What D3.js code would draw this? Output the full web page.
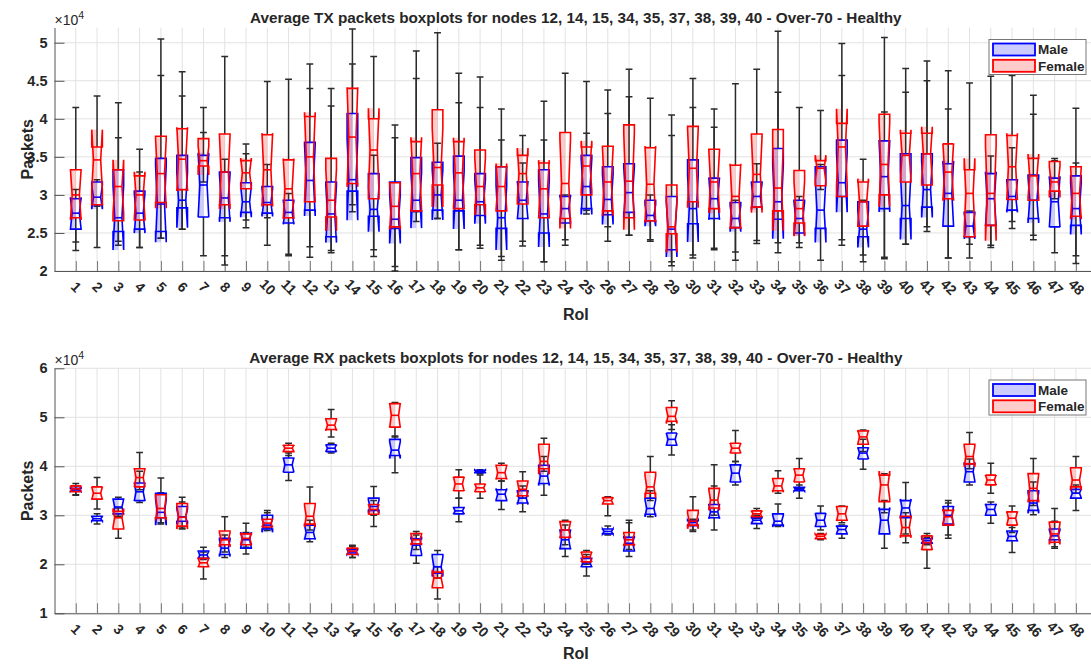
<!DOCTYPE html>
<html>
<head>
<meta charset="utf-8">
<script src="https://cdn.jsdelivr.net/npm/d3@7"></script>
<style>
body { margin: 0; background: #fff; }
text { font-family: "Liberation Sans", Arial, sans-serif; fill: #262626; }
</style>
</head>
<body>
<div id="chart"></div>
<script>
// RoI categories
var rois = d3.range(1, 49);

// all values in units of 10^4 packets
// TX - male
var txMaleQ1  = [2.55,2.87,2.52,2.55,2.52,2.83,2.71,2.70,2.77,2.76,2.63,2.80,2.45,3.05,2.72,2.56,2.79,2.80,2.79,2.73,2.56,2.69,2.50,2.63,2.82,2.74,2.77,2.66,2.28,2.62,2.69,2.57,2.84,2.68,2.50,2.56,2.98,2.45,2.82,2.69,2.84,2.59,2.45,2.60,2.80,2.69,2.58,2.60];
var txMaleMed = [2.76,2.97,2.70,2.76,2.88,2.93,3.13,2.96,2.91,2.90,2.77,3.19,2.75,3.20,2.81,2.68,2.93,3.00,2.93,2.91,2.70,2.93,2.75,2.82,3.11,2.94,3.03,2.73,2.55,2.82,2.95,2.69,2.98,2.91,2.69,2.80,3.16,2.55,3.24,2.86,3.07,3.02,2.59,2.95,2.98,2.93,2.91,2.82];
var txMaleQ3  = [2.95,3.17,3.33,3.05,3.48,3.52,3.52,3.30,3.16,3.11,2.93,3.69,3.17,4.07,3.28,3.17,3.49,3.43,3.51,3.28,3.37,3.17,3.33,2.98,3.52,3.37,3.41,2.93,2.98,3.46,3.22,2.90,3.17,3.61,2.93,3.37,3.72,2.91,3.71,3.54,3.54,3.41,2.77,3.28,3.20,3.26,3.22,3.25];
var txMaleLo  = [2.27,2.85,2.34,2.31,2.43,2.55,2.20,2.08,2.57,2.70,2.20,2.18,2.24,2.78,2.19,2.00,2.65,2.69,2.28,2.30,2.14,2.33,2.12,2.34,2.75,2.39,2.47,2.39,2.12,2.17,2.28,2.14,2.40,2.24,2.31,2.14,2.34,2.12,2.16,2.35,2.52,2.17,2.35,2.31,2.56,2.41,2.24,2.10];
var txMaleHi  = [3.07,3.20,3.75,3.30,4.57,4.30,4.15,3.47,3.54,3.40,3.02,4.40,4.17,4.72,3.52,3.75,4.53,3.68,4.21,4.15,3.72,3.42,3.72,3.00,3.81,4.07,4.29,3.00,3.78,4.15,3.89,2.93,3.41,4.35,2.98,3.40,4.57,2.93,4.09,4.35,4.50,4.13,2.79,3.51,3.62,4.06,3.45,3.42];

// TX - female
var txFemQ1  = [2.70,2.87,2.66,2.67,2.90,3.07,3.38,2.87,3.08,2.87,2.70,2.91,2.71,3.15,2.95,2.58,2.79,3.13,2.82,2.87,2.79,2.88,2.70,2.69,3.00,2.79,2.70,2.66,2.49,2.91,2.82,2.57,2.84,2.79,2.63,3.12,2.98,2.59,3.00,3.17,3.13,2.95,2.45,2.60,2.94,2.93,3.05,2.72];
var txFemMed = [3.00,3.46,3.11,3.00,3.28,3.47,3.45,3.30,3.29,3.33,3.08,3.50,2.93,3.76,3.59,2.85,3.28,3.36,3.29,3.11,3.11,3.28,3.08,3.15,3.38,3.17,3.18,3.14,2.58,3.35,3.17,2.98,3.27,3.09,2.82,3.35,3.63,2.91,3.40,3.52,3.54,3.30,3.02,3.02,3.37,3.25,3.17,3.02];
var txFemQ3  = [3.33,3.63,3.33,3.25,3.77,3.87,3.74,3.80,3.45,3.79,3.46,4.03,3.48,4.40,4.00,3.16,3.70,4.12,3.70,3.59,3.37,3.52,3.42,3.82,3.63,3.64,3.92,3.62,3.13,3.90,3.60,3.39,3.80,3.86,3.32,3.45,3.94,3.17,4.06,3.81,3.81,3.67,3.33,3.79,3.78,3.48,3.44,3.37];
var txFemLo  = [2.38,2.31,2.39,2.31,2.43,2.55,3.17,2.20,2.67,2.34,2.22,2.32,2.27,2.87,2.28,2.06,2.78,2.69,2.28,2.34,2.19,2.39,2.12,2.41,2.80,2.58,2.47,2.41,2.07,2.21,2.30,2.25,2.36,2.37,2.37,3.07,2.41,2.21,2.18,2.35,2.58,2.17,2.17,2.34,2.65,2.47,2.95,2.20];
var txFemHi  = [4.15,4.30,4.21,3.60,5.05,4.62,3.82,4.82,3.67,4.49,4.52,4.72,4.40,5.18,4.82,3.92,4.89,5.13,4.60,4.55,4.13,3.78,4.23,4.60,4.49,4.38,4.65,4.27,4.05,4.53,4.13,4.46,4.65,5.15,4.15,4.11,4.99,3.47,5.07,4.66,4.76,4.63,4.47,4.56,4.57,4.31,3.48,4.14];

// RX - male
var rxMaleQ1  = [3.49,2.89,3.03,3.30,2.95,2.88,2.12,2.20,2.33,2.72,3.88,2.52,4.30,2.21,3.10,4.22,2.18,1.82,3.03,3.87,3.30,3.25,3.65,2.32,1.95,2.62,2.27,3.02,4.43,2.79,2.95,3.68,2.83,2.80,3.50,2.77,2.62,4.15,2.62,2.95,2.43,2.82,3.68,3.00,2.48,3.10,2.50,3.35];
var rxMaleMed = [3.52,2.93,3.17,3.48,3.06,2.97,2.19,2.33,2.50,2.80,4.03,2.65,4.37,2.25,3.18,4.33,2.39,1.95,3.09,3.90,3.43,3.35,3.80,2.50,2.03,2.67,2.43,3.14,4.55,2.85,3.07,3.86,2.90,2.88,3.53,2.90,2.71,4.27,2.90,3.15,2.48,3.00,3.89,3.12,2.57,3.25,2.58,3.45];
var rxMaleQ3  = [3.55,2.98,3.33,3.66,3.45,3.18,2.27,2.53,2.63,3.00,4.17,2.80,4.44,2.30,3.35,4.55,2.52,2.20,3.16,3.92,3.52,3.50,4.02,2.70,2.12,2.72,2.55,3.35,4.68,2.89,3.22,4.03,2.95,3.03,3.57,3.04,2.78,4.38,3.12,3.30,2.52,3.18,4.05,3.22,2.68,3.50,2.72,3.53];
var rxMaleLo  = [3.41,2.82,2.98,3.26,2.82,2.74,2.10,2.14,2.21,2.69,3.71,2.46,4.27,2.14,3.00,3.87,2.02,1.72,2.87,3.85,3.12,3.07,3.41,2.16,1.76,2.60,2.16,2.97,4.23,2.67,2.70,3.62,2.73,2.77,3.35,2.70,2.53,3.94,2.33,2.62,2.40,2.60,3.62,2.84,2.24,3.01,2.33,3.10];
var rxMaleHi  = [3.60,3.03,3.37,3.90,3.76,3.37,2.35,2.60,2.65,3.10,4.27,2.90,4.47,2.37,3.59,4.62,2.60,2.28,3.35,3.93,3.70,3.60,4.20,2.80,2.20,2.78,2.85,3.50,4.85,2.92,4.03,4.10,3.00,3.23,3.62,3.19,2.80,4.55,3.30,3.67,2.55,3.30,4.15,3.27,2.75,3.68,3.14,3.62];

// RX - female
var rxFemQ1  = [3.48,3.33,2.72,3.58,2.95,2.78,1.95,2.40,2.40,2.76,4.30,2.82,4.75,2.20,3.02,4.80,2.42,1.52,3.50,3.48,3.75,3.40,3.95,2.55,2.05,3.23,2.40,3.45,4.92,2.80,3.15,4.27,2.97,3.50,3.68,2.52,2.90,4.45,3.28,2.58,2.30,2.80,4.05,3.62,2.80,3.30,2.45,3.58];
var rxFemMed = [3.54,3.45,2.95,3.77,3.14,2.96,2.03,2.50,2.53,2.84,4.37,2.98,4.84,2.27,3.12,5.04,2.50,1.72,3.64,3.56,3.87,3.53,4.10,2.70,2.15,3.30,2.50,3.58,5.02,2.88,3.31,4.37,3.03,3.60,3.82,2.57,3.03,4.60,3.62,2.75,2.44,2.97,4.20,3.72,2.94,3.55,2.62,3.72];
var rxFemQ3  = [3.60,3.58,3.08,3.95,3.42,3.24,2.12,2.68,2.62,2.92,4.43,3.24,4.97,2.33,3.22,5.28,2.63,1.84,3.78,3.64,4.02,3.70,4.45,2.87,2.25,3.36,2.65,3.88,5.20,3.10,3.55,4.47,3.09,3.75,3.95,2.61,3.18,4.72,3.82,2.98,2.58,3.10,4.45,3.82,3.07,3.85,2.86,3.97];
var rxFemLo  = [3.42,3.13,2.53,3.52,2.85,2.72,1.70,2.25,2.35,2.74,4.22,2.70,4.60,2.14,2.77,4.60,2.30,1.29,3.35,3.35,3.70,3.35,3.90,2.40,2.00,2.99,2.30,3.30,4.75,2.70,3.00,4.10,2.94,3.45,3.55,2.50,2.85,4.30,3.05,2.44,1.92,2.53,3.95,3.45,2.65,3.20,2.36,3.45];
var rxFemHi  = [3.65,3.77,3.15,4.28,3.46,3.27,2.25,2.97,2.84,3.05,4.47,3.58,5.16,2.39,3.30,5.30,2.67,1.95,3.93,3.82,4.06,3.89,4.57,2.90,2.28,3.38,2.90,4.20,5.34,3.38,3.60,4.73,3.14,3.91,4.16,2.63,3.19,4.74,3.85,3.05,2.63,3.25,4.69,4.06,3.19,4.16,2.88,4.20];

// tick labels
var txTicks = [2, 2.5, 3, 3.5, 4, 4.5, 5];
var rxTicks = [1, 2, 3, 4, 5, 6];
var seriesNames = ['Male', 'Female'];

// notch half-length factor (1.57/sqrt(n), 9 nodes)
var notchK = 1.57 / Math.sqrt(9);

var W = 1091, H = 665;
var svg = d3.select('#chart').append('svg')
    .attr('width', W).attr('height', H);

var x = d3.scaleLinear().domain([0, 49]).range([54.5, 1097.2]);

var blue = '#0000ff', red = '#ff0000';
var hw = 0.25, nw = 0.17, cw = 0.16;   // box / notch / cap half widths (x units)

function makeSeries(q1, med, q3, lo, hi) {
    return rois.map(function(r, i) {
        return {roi: r, q1: q1[i], med: med[i], q3: q3[i], lo: lo[i], hi: hi[i]};
    });
}

function drawPanel(p) {
    var y = d3.scaleLinear().domain(p.ylim).range([p.bottom, p.top]);
    var g = svg.append('g');

    // grid
    g.selectAll('.vg').data(rois).enter().append('line')
        .attr('x1', function(d){ return x(d); }).attr('x2', function(d){ return x(d); })
        .attr('y1', p.top).attr('y2', p.bottom)
        .attr('stroke', '#e2e2e2').attr('stroke-width', 1);
    g.selectAll('.hg').data(p.ticks).enter().append('line')
        .attr('x1', x(0)).attr('x2', W)
        .attr('y1', function(d){ return y(d); }).attr('y2', function(d){ return y(d); })
        .attr('stroke', '#e2e2e2').attr('stroke-width', 1);

    // axes
    var yAxis = d3.axisLeft(y).tickValues(p.ticks).tickSizeInner(-10).tickSizeOuter(0)
        .tickPadding(7).tickFormat(d3.format('~g'));
    var ya = g.append('g').attr('transform', 'translate(' + x(0) + ',0)').call(yAxis);
    ya.select('.domain').attr('stroke', '#555');
    ya.selectAll('.tick line').attr('stroke', '#555');
    ya.selectAll('text').attr('font-size', '14.5px').attr('font-weight', 'bold')
        .attr('font-family', '"Liberation Sans", Arial, sans-serif').attr('fill', '#262626');

    var xAxis = d3.axisBottom(x).tickValues(rois).tickSizeInner(-10).tickSizeOuter(0);
    var xa = g.append('g').attr('transform', 'translate(0,' + p.bottom + ')').call(xAxis);
    xa.select('.domain').attr('stroke', '#555');
    xa.selectAll('.tick line').attr('stroke', '#777');
    xa.selectAll('text')
        .attr('y', 0).attr('dy', '0.35em')
        .attr('transform', 'translate(0,16) rotate(45)')
        .attr('text-anchor', 'middle')
        .attr('font-size', '14px').attr('font-weight', 'bold')
        .attr('font-family', '"Liberation Sans", Arial, sans-serif').attr('fill', '#262626');

    // whiskers (black, under the boxes)
    var all = p.series[0].data.concat(p.series[1].data);
    var wg = g.append('g');
    wg.selectAll('path').data(all).enter().append('path')
        .attr('d', function(d) {
            var cx = x(d.roi);
            var c0 = x(d.roi - cw), c1 = x(d.roi + cw);
            return 'M' + cx + ',' + y(d.q3) + 'V' + y(d.hi) +
                'M' + c0 + ',' + y(d.hi) + 'H' + c1 +
                'M' + cx + ',' + y(d.q1) + 'V' + y(d.lo) +
                'M' + c0 + ',' + y(d.lo) + 'H' + c1;
        })
        .attr('fill', 'none').attr('stroke', '#2b2b2b').attr('stroke-width', 1.5);

    // notched boxes: light rectangular fill + notched outline
    p.series.forEach(function(s) {
        var bg = g.append('g');
        var boxes = bg.selectAll('g').data(s.data).enter().append('g');
        boxes.append('rect')
            .attr('x', function(d){ return x(d.roi - hw); })
            .attr('width', x(hw) - x(0))
            .attr('y', function(d){
                var n = notchK * (d.q3 - d.q1);
                return y(Math.max(d.q3, d.med + n));
            })
            .attr('height', function(d){
                var n = notchK * (d.q3 - d.q1);
                return y(Math.min(d.q1, d.med - n)) - y(Math.max(d.q3, d.med + n));
            })
            .attr('fill', s.color).attr('fill-opacity', 0.2);
        boxes.append('path')
            .attr('d', function(d) {
                var n = notchK * (d.q3 - d.q1);
                var L = x(d.roi - hw), R = x(d.roi + hw);
                var nL = x(d.roi - nw), nR = x(d.roi + nw);
                var pts = [[L, d.q1], [L, d.med - n], [nL, d.med], [L, d.med + n], [L, d.q3],
                           [R, d.q3], [R, d.med + n], [nR, d.med], [R, d.med - n], [R, d.q1]];
                return 'M' + pts.map(function(pt){ return pt[0] + ',' + y(pt[1]); }).join('L') + 'Z';
            })
            .attr('fill', 'none')
            .attr('stroke', s.color).attr('stroke-width', 1.6).attr('stroke-linejoin', 'miter');
        boxes.append('line')
            .attr('x1', function(d){ return x(d.roi - nw); })
            .attr('x2', function(d){ return x(d.roi + nw); })
            .attr('y1', function(d){ return y(d.med); })
            .attr('y2', function(d){ return y(d.med); })
            .attr('stroke', s.color).attr('stroke-width', 1.6);
    });

    // titles and labels
    g.append('text').attr('x', (x(0) + x(49)) / 2).attr('y', p.top - 5)
        .attr('text-anchor', 'middle').attr('font-size', '15.3px').attr('font-weight', 'bold')
        .attr('fill', '#000').text(p.title);
    var ex = g.append('text').attr('x', x(0)).attr('y', p.top - 3)
        .attr('font-size', '14px');
    ex.append('tspan').text('\u00d710');
    ex.append('tspan').attr('dy', '-6').attr('font-size', '10.5px').text('4');
    g.append('text').attr('transform', 'translate(27,' + ((p.top + p.bottom) / 2) + ') rotate(-90)')
        .attr('text-anchor', 'middle').attr('dy', '0.35em')
        .attr('font-size', '16px').attr('font-weight', 'bold').text('Packets');
    g.append('text').attr('x', (x(0) + x(49)) / 2).attr('y', p.bottom + p.roiGap)
        .attr('text-anchor', 'middle')
        .attr('font-size', '16px').attr('font-weight', 'bold').text('RoI');

    // legend
    var lg = g.append('g').attr('transform', 'translate(989,' + p.legendTop + ')');
    lg.append('rect').attr('width', 97).attr('height', 35)
        .attr('fill', '#fff').attr('stroke', '#777').attr('stroke-width', 1);
    p.series.forEach(function(s, i) {
        lg.append('rect').attr('x', 4).attr('y', 4 + i * 16.3).attr('width', 42).attr('height', 12)
            .attr('fill', s.color).attr('fill-opacity', 0.2)
            .attr('stroke', s.color).attr('stroke-width', 1.8);
        lg.append('text').attr('x', 49).attr('y', 14.8 + i * 16.3)
            .attr('font-size', '13.5px').attr('font-weight', 'bold').attr('fill', '#000')
            .text(seriesNames[i]);
    });
}

drawPanel({
    title: 'Average TX packets boxplots for nodes 12, 14, 15, 34, 35, 37, 38, 39, 40 - Over-70 - Healthy',
    ylim: [2, 5.2], ticks: txTicks, top: 27.5, bottom: 271, legendTop: 39.5, roiGap: 49,
    series: [
        {color: blue, data: makeSeries(txMaleQ1, txMaleMed, txMaleQ3, txMaleLo, txMaleHi)},
        {color: red,  data: makeSeries(txFemQ1, txFemMed, txFemQ3, txFemLo, txFemHi)}
    ]
});

drawPanel({
    title: 'Average RX packets boxplots for nodes 12, 14, 15, 34, 35, 37, 38, 39, 40 - Over-70 - Healthy',
    ylim: [1, 6], ticks: rxTicks, top: 368.3, bottom: 613.3, legendTop: 380, roiGap: 45.5,
    series: [
        {color: blue, data: makeSeries(rxMaleQ1, rxMaleMed, rxMaleQ3, rxMaleLo, rxMaleHi)},
        {color: red,  data: makeSeries(rxFemQ1, rxFemMed, rxFemQ3, rxFemLo, rxFemHi)}
    ]
});
</script>
</body>
</html>
